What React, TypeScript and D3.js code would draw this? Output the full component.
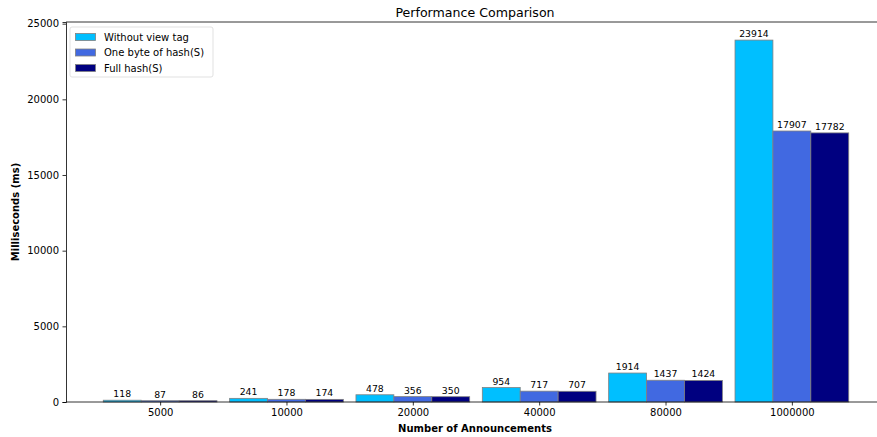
import React, { useEffect, useRef } from "react";
import * as d3 from "d3";

// chart values
const categories = ["5000", "10000", "20000", "40000", "80000", "1000000"];
const seriesNames = ["Without view tag", "One byte of hash(S)", "Full hash(S)"];
const withoutViewTag = [118, 241, 478, 954, 1914, 23914];
const oneByteHash = [87, 178, 356, 717, 1437, 17907];
const fullHash = [86, 174, 350, 707, 1424, 17782];
const yTicks = [0, 5000, 10000, 15000, 20000, 25000];

const colors = ["#00bfff", "#4169e1", "#000080"];

export default function App() {
  const svgRef = useRef<SVGSVGElement>(null);

  useEffect(() => {
    if (!svgRef.current) return;
    const svg = d3.select(svgRef.current);
    svg.selectAll("*").remove();

    const width = 877;
    const height = 437;
    const margin = { top: 22, right: -9, bottom: 35, left: 66 };
    const font = "DejaVu Sans, sans-serif";

    const series = [withoutViewTag, oneByteHash, fullHash];
    const barW = 0.3;
    const maxVal = d3.max(series.flat()) as number;

    // matplotlib style limits: bars span plus 5% padding
    const x = d3
      .scaleLinear()
      .domain([-0.745, categories.length - 1 + 0.745])
      .range([margin.left, width - margin.right]);
    const y = d3
      .scaleLinear()
      .domain([0, maxVal * 1.05])
      .range([height - margin.bottom, margin.top]);

    // bars
    series.forEach((vals, j) => {
      const g = svg.append("g");
      g.selectAll("rect")
        .data(vals)
        .join("rect")
        .attr("x", (_, i) => x(i + (j - 1) * barW - barW / 2))
        .attr("y", (d) => y(d))
        .attr("width", x(barW) - x(0))
        .attr("height", (d) => y(0) - y(d))
        .attr("fill", colors[j])
        .attr("stroke", "#808080")
        .attr("stroke-width", 0.8);

      g.selectAll("text")
        .data(vals)
        .join("text")
        .attr("x", (_, i) => x(i + (j - 1) * barW))
        .attr("y", (d) => y(d) - 3)
        .attr("text-anchor", "middle")
        .attr("font-family", font)
        .attr("font-size", 9.3)
        .attr("fill", "#000")
        .text((d) => d);
    });

    // top spine (right one falls outside the picture)
    svg.append("line")
      .attr("x1", margin.left).attr("x2", width)
      .attr("y1", margin.top).attr("y2", margin.top)
      .attr("stroke", "#000").attr("stroke-width", 0.8);

    const xAxis = d3
      .axisBottom(x)
      .tickValues(d3.range(categories.length))
      .tickFormat((d) => categories[d as number])
      .tickSizeOuter(0)
      .tickSize(3.5)
      .tickPadding(3.5);
    const gx = svg.append("g")
      .attr("transform", `translate(0,${height - margin.bottom})`)
      .call(xAxis);
    gx.select(".domain").attr("d", `M${margin.left},0H${width}`).attr("stroke-width", 0.8);

    const yAxis = d3
      .axisLeft(y)
      .tickValues(yTicks)
      .tickSizeOuter(0)
      .tickSize(3.5)
      .tickPadding(3.5)
      .tickFormat(d3.format("d"));
    const gy = svg.append("g")
      .attr("transform", `translate(${margin.left},0)`)
      .call(yAxis);
    gy.select(".domain").attr("stroke-width", 0.8);

    [gx, gy].forEach((g) => {
      g.selectAll("text").attr("font-family", font).attr("font-size", 10).attr("fill", "#000");
      g.selectAll(".tick line").attr("stroke-width", 0.8);
    });

    // title and axis labels
    const cx = 475;
    svg.append("text")
      .attr("x", cx).attr("y", 17)
      .attr("text-anchor", "middle")
      .attr("font-family", font).attr("font-size", 12.6)
      .text("Performance Comparison");
    svg.append("text")
      .attr("x", cx).attr("y", 432)
      .attr("text-anchor", "middle")
      .attr("font-family", font).attr("font-size", 10).attr("font-weight", "bold")
      .text("Number of Announcements");
    svg.append("text")
      .attr("transform", `translate(19,${(margin.top + height - margin.bottom) / 2}) rotate(-90)`)
      .attr("text-anchor", "middle")
      .attr("font-family", font).attr("font-size", 10).attr("font-weight", "bold")
      .text("Milliseconds (ms)");

    // legend
    const lg = svg.append("g").attr("transform", `translate(70,27)`);
    lg.append("rect")
      .attr("width", 143).attr("height", 50).attr("rx", 2)
      .attr("fill", "#fff").attr("fill-opacity", 0.8)
      .attr("stroke", "#d9d9d9").attr("stroke-width", 0.8);
    seriesNames.forEach((name, j) => {
      lg.append("rect")
        .attr("x", 5.5).attr("y", 6.5 + j * 15.5)
        .attr("width", 20).attr("height", 7)
        .attr("fill", colors[j]).attr("stroke", "#808080").attr("stroke-width", 0.8);
      lg.append("text")
        .attr("x", 34).attr("y", 13.5 + j * 15.5)
        .attr("font-family", font).attr("font-size", 10)
        .text(name);
    });
  }, []);

  return (
    <svg
      ref={svgRef}
      width={877}
      height={437}
      style={{ position: "absolute", left: 0, top: 0, background: "#fff" }}
    />
  );
}
